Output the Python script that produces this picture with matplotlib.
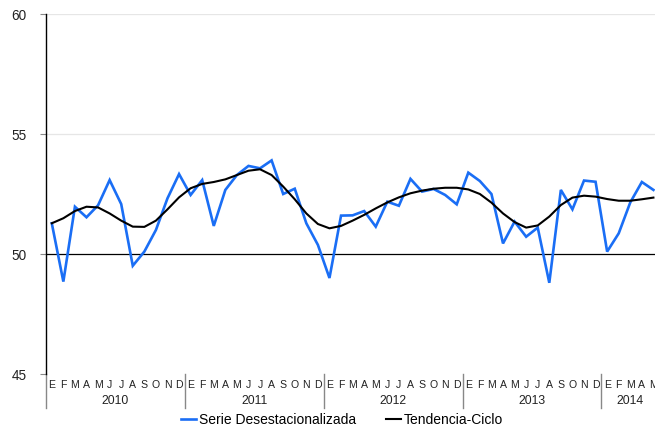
import matplotlib
matplotlib.use("Agg")
import matplotlib.pyplot as plt
import matplotlib.transforms as mtransforms

plt.rcParams['font.family'] = ['Liberation Sans', 'DejaVu Sans']

years = ["2010", "2011", "2012", "2013", "2014"]
month_letters = ["E", "F", "M", "A", "M", "J", "J", "A", "S", "O", "N", "D"]
months_per_year = [12, 12, 12, 12, 5]

serie_desest = [
    51.28, 48.85, 51.97, 51.53, 52.03, 53.08, 52.08, 49.51, 50.10, 51.00, 52.32, 53.33,
    52.46, 53.08, 51.17, 52.67, 53.29, 53.67, 53.57, 53.90, 52.50, 52.72, 51.28, 50.38,
    49.00, 51.60, 51.61, 51.79, 51.14, 52.18, 52.01, 53.13, 52.60, 52.71, 52.46, 52.07,
    53.39, 53.04, 52.50, 50.44, 51.35, 50.72, 51.10, 48.80, 52.67, 51.86, 53.06, 53.01,
    50.10, 50.86, 52.15, 53.00, 52.67,
]
tendencia_ciclo = [
    51.28, 51.49, 51.79, 51.97, 51.94, 51.69, 51.39, 51.14, 51.13, 51.39, 51.86, 52.36,
    52.74, 52.92, 53.00, 53.11, 53.29, 53.47, 53.53, 53.29, 52.81, 52.28, 51.69, 51.25,
    51.07, 51.17, 51.39, 51.63, 51.90, 52.15, 52.36, 52.53, 52.64, 52.72, 52.76, 52.76,
    52.69, 52.50, 52.14, 51.69, 51.33, 51.10, 51.19, 51.56, 52.04, 52.35, 52.43, 52.39,
    52.29, 52.22, 52.22, 52.28, 52.35,
]
y_ticks = [45, 50, 55, 60]

W, H = 655, 429
fig = plt.figure(figsize=(W / 100, H / 100), dpi=100)
left_px, top_px, bottom_px = 46, 14, 374
n = len(serie_desest)
month_px = 11.57
ax = fig.add_axes([left_px / W, 1 - bottom_px / H, n * month_px / W, (bottom_px - top_px) / H])

x = list(range(n))
ax.plot(x, serie_desest, color='#1a6ef5', lw=1.9, label='Serie Desestacionalizada', zorder=4,
        solid_joinstyle='miter')
ax.plot(x, tendencia_ciclo, color='black', lw=1.5, label='Tendencia-Ciclo', zorder=5)
ax.axhline(50, color='black', lw=0.9, zorder=3)

ax.set_xlim(-0.5, n - 0.5)
ax.set_ylim(45, 60)
ax.set_yticks(y_ticks)
ax.set_yticklabels([str(v) for v in y_ticks], fontsize=9.8, color='#222222')
ax.tick_params(axis='y', length=4, width=0.8, color='#888888', pad=10)
ax.set_xticks([])
for v in y_ticks:
    if v not in (45, 50):
        ax.axhline(v, color='#e6e6e6', lw=0.9, zorder=1)

for s in ['top', 'right', 'bottom']:
    ax.spines[s].set_visible(False)
ax.spines['left'].set_color('black')
ax.spines['left'].set_linewidth(1.0)

trans = mtransforms.blended_transform_factory(ax.transData, ax.transAxes)
axh = bottom_px - top_px
month_y = -(384.5 - bottom_px) / axh
year_y = -(401.5 - bottom_px) / axh
sep_bot = -(408 - bottom_px) / axh

start = 0
for yr, cnt in zip(years, months_per_year):
    for m in range(cnt):
        ax.text(start + m, month_y, month_letters[m], transform=trans, ha='center', va='center',
                fontsize=7.6, color='#222222')
    ax.text(start + (cnt - 1) / 2, year_y, yr, transform=trans, ha='center', va='center',
            fontsize=8.8, color='#222222')
    sx = start - 0.5
    ax.plot([sx, sx], [0, sep_bot], transform=trans, color='#888888',
            lw=1.0, clip_on=False)
    start += cnt

fig.legend(loc='center', bbox_to_anchor=(342 / W, 1 - 420 / H), ncol=2, frameon=False,
           fontsize=10, handlelength=1.1, handletextpad=0.15, columnspacing=2.2)

fig.savefig('out.png', dpi=100)
